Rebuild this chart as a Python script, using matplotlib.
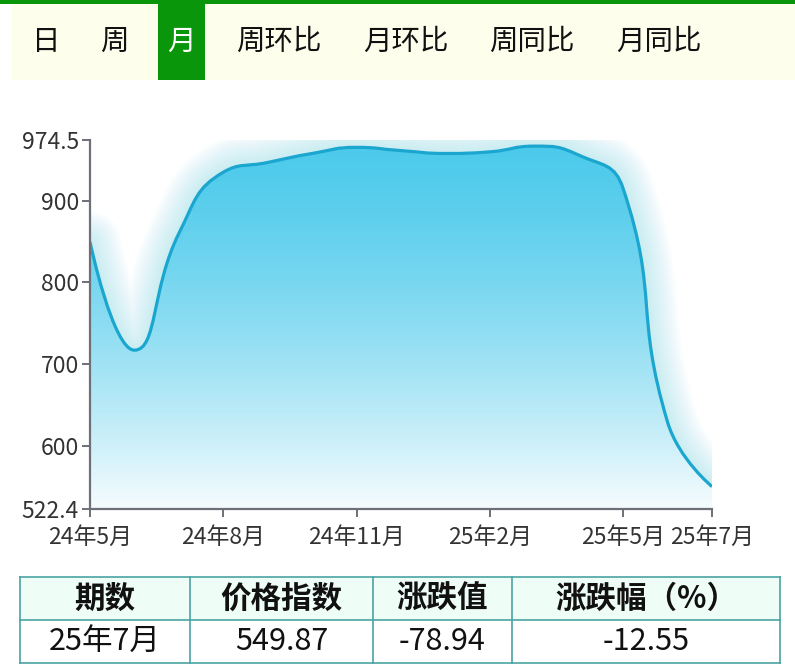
import matplotlib
matplotlib.use("Agg")
import matplotlib.pyplot as plt
import numpy as np
from matplotlib.path import Path
from matplotlib.patches import PathPatch, Rectangle

plt.rcParams['font.family'] = ['Noto Sans CJK SC', 'DejaVu Sans']

# Tabs along the top
tabs = ["日", "周", "月", "周环比", "月环比", "周同比", "月同比"]
active_tab = "月"

# Monthly price index
months = ["24年5月", "24年6月", "24年7月", "24年8月", "24年9月", "24年10月", "24年11月",
          "24年12月", "25年1月", "25年2月", "25年3月", "25年4月", "25年5月", "25年6月", "25年7月"]
values = [849.5, 717.0, 860.0, 935.0, 947.0, 958.0, 965.5,
          961.5, 958.0, 960.0, 967.0, 956.0, 915.0, 628.81, 549.87]
y_min, y_max = 522.4, 974.5
y_ticks = [522.4, 600, 700, 800, 900, 974.5]
y_tick_labels = ["522.4", "600", "700", "800", "900", "974.5"]
x_tick_labels = ["24年5月", "24年8月", "24年11月", "25年2月", "25年5月", "25年7月"]

# Summary table
table_header = ["期数", "价格指数", "涨跌值", "涨跌幅（%）"]
table_row = ["25年7月", "549.87", "-78.94", "-12.55"]

W, H = 795, 670
fig = plt.figure(figsize=(W / 100, H / 100), dpi=100)

# overlay in pixel coordinates for the tab bar and table
over = fig.add_axes([0, 0, 1, 1])
over.set_xlim(0, W)
over.set_ylim(H, 0)
over.axis("off")

green = "#0a960a"
over.add_patch(Rectangle((0, 0), W, 4, color=green, lw=0))
over.add_patch(Rectangle((12, 4), W - 12, 76, color="#fdfeec", lw=0))
tab_x = [46, 114, 181, 279, 406, 532, 659]
for name, x in zip(tabs, tab_x):
    if name == active_tab:
        over.add_patch(Rectangle((158, 4), 47, 76, color=green, lw=0))
        over.text(x, 42, name, ha="center", va="center", fontsize=20.5, color="white")
    else:
        over.text(x, 42, name, ha="center", va="center", fontsize=20.5, color="#111111")

# table
col_edges = [20, 190, 373, 512, 780]
top, mid, bottom = 577, 620, 663
border = "#4aa3a3"
over.add_patch(Rectangle((20, top), 760, mid - top, facecolor="#effdf7", lw=0))
for yy in (top, mid, bottom):
    over.plot([20, 780], [yy, yy], color=border, lw=1.2)
for xx in col_edges:
    over.plot([xx, xx], [top, bottom], color=border, lw=1.2)
for i in range(4):
    cx = (col_edges[i] + col_edges[i + 1]) / 2
    over.text(cx, (top + mid) / 2, table_header[i], ha="center", va="center",
              fontsize=22, fontweight="bold", color="#111111")
    over.text(cx, (mid + bottom) / 2, table_row[i], ha="center", va="center",
              fontsize=22, color="#111111")

# chart
x0, x1, py0, py1 = 90, 712, 140, 509
ax = fig.add_axes([x0 / W, (H - py1) / H, (x1 - x0) / W, (py1 - py0) / H])
ax.patch.set_alpha(0)
n = len(values)
ax.set_xlim(0, n - 1)
ax.set_ylim(y_min, y_max)

# smooth curve like echarts (smooth=0.5), computed in pixel space
sx = (x1 - x0) / (n - 1)
sy = (py1 - py0) / (y_max - y_min)
P = np.column_stack([np.arange(n) * sx, np.array(values) * sy])
smooth = 0.5
cps_in = [None] * n   # control point before each point
cps_out = [None] * n  # control point after each point
for i in range(n):
    p = P[i]
    if i == 0 or i == n - 1:
        cps_in[i] = p.copy()
        cps_out[i] = p.copy()
        continue
    prev, nxt = P[i - 1], P[i + 1]
    v = nxt - prev
    l0 = np.hypot(*(p - prev))
    l1 = np.hypot(*(nxt - p))
    r = l1 / (l0 + l1)
    out = p + v * smooth * r
    out = np.minimum(out, np.maximum(nxt, p))
    out = np.maximum(out, np.minimum(nxt, p))
    v = out - p
    cin = p - v * l0 / l1
    cin = np.minimum(cin, np.maximum(prev, p))
    cin = np.maximum(cin, np.minimum(prev, p))
    v = p - cin
    out = p + v * l1 / l0
    cps_in[i] = cin
    cps_out[i] = out

to_data = np.array([1 / sx, 1 / sy])
verts = [P[0] * to_data]
codes = [Path.MOVETO]
for i in range(n - 1):
    verts += [cps_out[i] * to_data, cps_in[i + 1] * to_data, P[i + 1] * to_data]
    codes += [Path.CURVE4] * 3
line_path = Path(verts, codes)
fill_path = Path(verts + [(n - 1, y_min), (0, y_min), verts[0]],
                 codes + [Path.LINETO, Path.LINETO, Path.CLOSEPOLY])

# soft glow (shadow blur) around the area
for lw in np.arange(44, 2, -3):
    ax.add_patch(PathPatch(line_path, facecolor="none", edgecolor="#7fd8f2",
                           lw=lw, alpha=0.033, capstyle="round", joinstyle="round"))

grad = np.linspace(0, 1, 256).reshape(-1, 1)
top_c = np.array([0x4c, 0xca, 0xeb]) / 255
bot_c = np.array([0xf6, 0xfc, 0xfe]) / 255
rgb = top_c + (bot_c - top_c) * grad[..., None] ** 1.4
img = ax.imshow(rgb, extent=[0, n - 1, y_min, y_max], aspect="auto",
                origin="upper", zorder=1)
clip = PathPatch(fill_path, facecolor="none", edgecolor="none", transform=ax.transData)
ax.add_patch(clip)
img.set_clip_path(clip)

ax.add_patch(PathPatch(line_path, facecolor="none", edgecolor="#1aa6cf", lw=2.3, zorder=3))

ax.set_xlim(0, n - 1)
ax.set_ylim(y_min, y_max)
ax.set_xticks([months.index(m) for m in x_tick_labels])
ax.set_xticklabels(x_tick_labels)
ax.set_yticks(y_ticks)
ax.set_yticklabels(y_tick_labels)
for s in ("top", "right"):
    ax.spines[s].set_visible(False)
for s in ("left", "bottom"):
    ax.spines[s].set_color("#6e7079")
    ax.spines[s].set_linewidth(1.6)
    ax.spines[s].set_zorder(4)
ax.tick_params(colors="#6e7079", labelcolor="#333333", labelsize=16.5, length=6, width=1.4)
ax.tick_params(axis="x", pad=6)
ax.tick_params(axis="y", pad=2)

fig.savefig("out.png", dpi=100)
